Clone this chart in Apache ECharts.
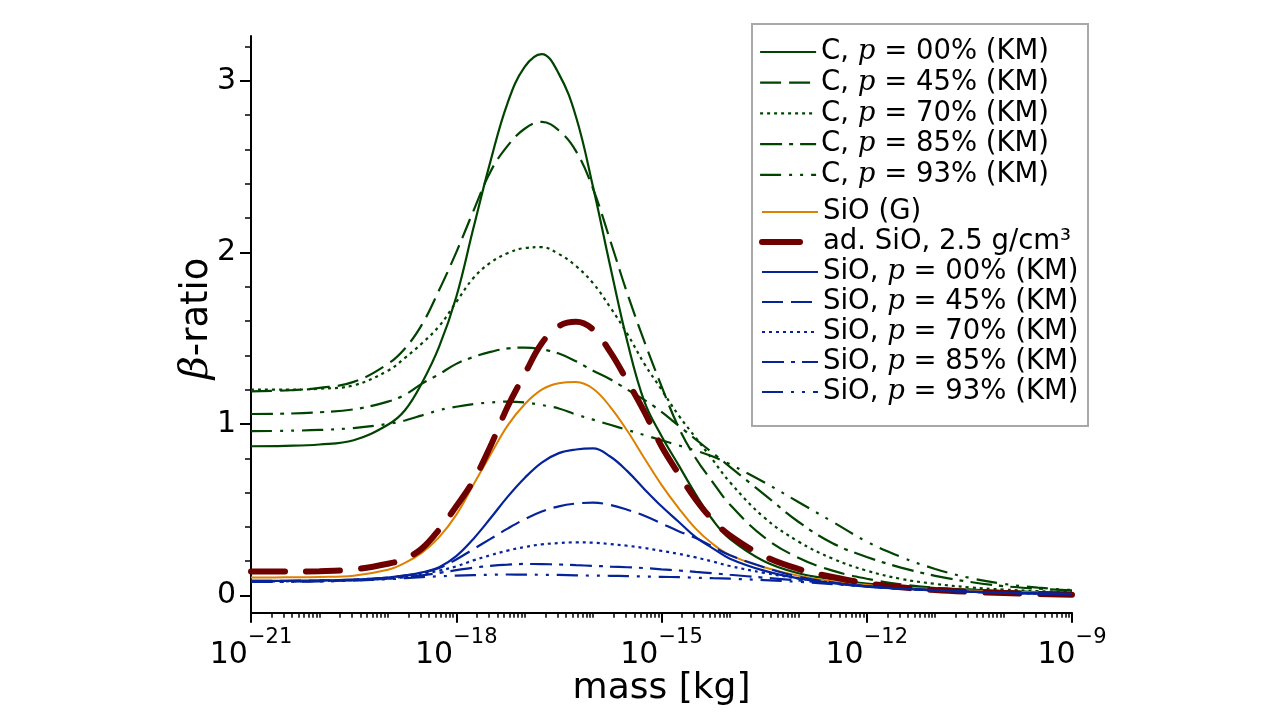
<!DOCTYPE html>
<html><head><meta charset="utf-8">
<script src="https://cdn.jsdelivr.net/npm/echarts@6/dist/echarts.min.js"></script>
<style>html,body{margin:0;padding:0;background:#fff}#c{width:1280px;height:719px}</style>
</head><body><div id="c"></div>
<script>
// log10 of mass [kg]
const massExp = [-21, -20.5, -20, -19.5, -19, -18.75, -18.5, -18.25, -18, -17.75, -17.5, -17.25, -17, -16.75, -16.5, -16.25, -16, -15.75, -15.5, -15.25, -15, -14.75, -14.5, -14.25, -14, -13.5, -13, -12.5, -12, -11.5, -11, -10.5, -10, -9.5, -9];

const xTickExp = [-21, -18, -15, -12, -9];
const yTickValues = [0, 1, 2, 3];
const yMinorValues = [0.2, 0.4, 0.6, 0.8, 1.2, 1.4, 1.6, 1.8, 2.2, 2.4, 2.6, 2.8, 3.2];
const minorMultipliers = [2, 3, 4, 5, 6, 7, 8, 9];

const names = [
  'C, p = 00% (KM)', 'C, p = 45% (KM)', 'C, p = 70% (KM)', 'C, p = 85% (KM)', 'C, p = 93% (KM)',
  'SiO (G)', 'ad. SiO, 2.5 g/cm³',
  'SiO, p = 00% (KM)', 'SiO, p = 45% (KM)', 'SiO, p = 70% (KM)', 'SiO, p = 85% (KM)', 'SiO, p = 93% (KM)'
];

const C00 = [0.87,0.872,0.88,0.905,0.995,1.08,1.24,1.45,1.74,2.14,2.53,2.87,3.08,3.155,3.04,2.79,2.38,1.92,1.48,1.13,0.93,0.76,0.59,0.44,0.33,0.2,0.13,0.095,0.07,0.055,0.043,0.034,0.026,0.02,0.015];
const C45 = [1.19,1.195,1.21,1.245,1.35,1.44,1.58,1.78,2.0,2.24,2.47,2.62,2.72,2.76,2.71,2.59,2.37,2.07,1.76,1.48,1.22,0.98,0.8,0.66,0.53,0.34,0.22,0.145,0.098,0.065,0.045,0.034,0.025,0.019,0.015];
const C70 = [1.2,1.2,1.205,1.225,1.31,1.385,1.47,1.57,1.71,1.85,1.94,1.995,2.025,2.03,1.99,1.92,1.82,1.68,1.525,1.35,1.2,1.05,0.92,0.79,0.66,0.455,0.315,0.215,0.145,0.097,0.068,0.048,0.035,0.026,0.02];
const C85 = [1.058,1.06,1.068,1.085,1.13,1.17,1.235,1.29,1.35,1.39,1.42,1.44,1.445,1.435,1.41,1.365,1.31,1.26,1.2,1.14,1.07,0.99,0.91,0.83,0.75,0.59,0.43,0.305,0.225,0.163,0.115,0.08,0.055,0.04,0.03];
const C93 = [0.958,0.96,0.965,0.976,1.0,1.02,1.05,1.08,1.1,1.115,1.125,1.13,1.125,1.11,1.09,1.055,1.025,0.995,0.965,0.935,0.905,0.875,0.845,0.81,0.765,0.66,0.545,0.43,0.314,0.225,0.155,0.103,0.068,0.046,0.032];
const SiOG = [0.105,0.106,0.108,0.116,0.15,0.19,0.25,0.34,0.47,0.645,0.82,0.99,1.115,1.2,1.237,1.244,1.205,1.1,0.96,0.8,0.645,0.51,0.39,0.3,0.235,0.165,0.115,0.083,0.062,0.048,0.037,0.029,0.022,0.017,0.013];
const adSiO = [0.14,0.14,0.142,0.152,0.185,0.215,0.275,0.385,0.52,0.67,0.87,1.1,1.29,1.47,1.57,1.595,1.55,1.42,1.25,1.07,0.87,0.71,0.56,0.44,0.35,0.23,0.155,0.108,0.072,0.048,0.032,0.022,0.015,0.009,0.005];
const S00 = [0.085,0.086,0.088,0.093,0.105,0.117,0.135,0.165,0.23,0.33,0.45,0.575,0.685,0.775,0.83,0.851,0.857,0.81,0.725,0.62,0.52,0.43,0.34,0.275,0.215,0.145,0.1,0.072,0.052,0.04,0.03,0.023,0.017,0.012,0.009];
const S45 = [0.085,0.086,0.088,0.093,0.105,0.116,0.132,0.16,0.21,0.27,0.33,0.39,0.445,0.49,0.52,0.536,0.541,0.528,0.5,0.465,0.42,0.375,0.335,0.285,0.235,0.165,0.11,0.076,0.054,0.041,0.031,0.023,0.017,0.012,0.009];
const S70 = [0.082,0.083,0.085,0.09,0.1,0.11,0.125,0.145,0.17,0.205,0.235,0.262,0.283,0.298,0.306,0.31,0.308,0.3,0.29,0.277,0.26,0.243,0.222,0.198,0.172,0.132,0.1,0.075,0.054,0.04,0.03,0.022,0.016,0.012,0.009];
const S85 = [0.08,0.081,0.083,0.088,0.098,0.107,0.118,0.132,0.148,0.162,0.173,0.18,0.184,0.183,0.181,0.177,0.173,0.169,0.165,0.16,0.153,0.146,0.138,0.13,0.121,0.104,0.088,0.07,0.054,0.04,0.03,0.022,0.016,0.012,0.009];
const S93 = [0.079,0.08,0.082,0.087,0.095,0.101,0.107,0.112,0.116,0.119,0.121,0.1225,0.122,0.121,0.12,0.118,0.116,0.115,0.113,0.111,0.109,0.107,0.104,0.101,0.098,0.09,0.08,0.067,0.053,0.04,0.03,0.022,0.016,0.012,0.009];

const values = [C00, C45, C70, C85, C93, SiOG, adSiO, S00, S45, S70, S85, S93];

const GREEN = '#004400', ORANGE = '#dd8000', RED = '#6e0000', BLUE = '#06249a';
const DASH = [21, 8], DOT = [3, 4], DASHDOT = [22, 7, 4, 7], DASHDOTDOT = [21, 8, 3, 8, 3, 8];
const styles = [
  [GREEN, 2.2, 'solid'], [GREEN, 2.2, DASH], [GREEN, 2.2, DOT], [GREEN, 2.2, DASHDOT], [GREEN, 2.2, DASHDOTDOT],
  [ORANGE, 2, 'solid'], [RED, 6, [34, 21]],
  [BLUE, 2.2, 'solid'], [BLUE, 2.2, DASH], [BLUE, 2.2, DOT], [BLUE, 2.2, DASHDOT], [BLUE, 2.2, DASHDOTDOT]
];

const xMinor = [];
for (let n = -21; n < -9; n++) {
  if ((n + 21) % 3 !== 0) xMinor.push(n);
  minorMultipliers.forEach(k => xMinor.push(n + Math.log10(k)));
}

const FONT = 'DejaVu Sans';
const series = names.map((nm, i) => ({
  name: nm,
  type: 'line',
  xAxisIndex: 0, yAxisIndex: 0,
  symbol: 'none',
  smooth: 0.4,
  data: massExp.map((x, j) => [x, values[i][j]]),
  lineStyle: { color: styles[i][0], width: styles[i][1], type: styles[i][2], cap: i === 6 ? 'round' : 'butt' },
  itemStyle: { color: styles[i][0] },
  z: 2 + i
}));

const LFS = 27.5;
const legendText = {
  fontFamily: FONT, fontSize: LFS, color: '#000', lineHeight: 30,
  rich: { i: { fontFamily: 'DejaVu Serif', fontStyle: 'italic', fontSize: LFS, lineHeight: 30, color: '#000' } }
};
const legendBase = {
  orient: 'vertical', left: 759, padding: 0, itemWidth: 56, itemHeight: 2, itemTextGap: 8,
  selectedMode: false,
  itemStyle: { opacity: 0, borderWidth: 0 },
  lineStyle: { width: 'inherit', type: 'inherit' },
  textStyle: legendText,
  formatter: n => n.replace(' p ', ' {i|p} ')
};
const legend2Data = names.slice(5).map((n, i) => i === 1 ? { name: n, lineStyle: { type: [38, 40] } } : n);

const chart = echarts.init(document.getElementById('c'));
chart.setOption({
  animation: false,
  backgroundColor: '#fff',
  grid: { left: 251, right: 208, top: 36.1, bottom: 106.3, containLabel: false },
  xAxis: [{
    type: 'value', min: -21, max: -9, interval: 3, position: 'bottom',
    axisLine: { onZero: false, lineStyle: { color: '#000', width: 2 } },
    axisTick: { length: 10, lineStyle: { color: '#000', width: 2 } },
    splitLine: { show: false },
    axisLabel: {
      margin: 14,
      formatter: v => xTickExp.includes(v) ? '{b|10}{s|' + (v < 0 ? '−' : '') + Math.abs(v) + '}' : '',
      rich: {
        b: { fontFamily: FONT, fontSize: 30, lineHeight: 44, verticalAlign: 'bottom', color: '#000' },
        s: { fontFamily: FONT, fontSize: 21, lineHeight: 17, verticalAlign: 'top', color: '#000' }
      }
    },
    name: 'mass [kg]', nameLocation: 'middle', nameGap: 58, nameMoveOverlap: false,
    nameTextStyle: { fontFamily: FONT, fontSize: 36, color: '#000' }
  }, {
    type: 'value', min: -21, max: -9, position: 'bottom', offset: 0,
    axisLine: { show: false, onZero: false },
    axisTick: { show: true, length: 5, customValues: xMinor, lineStyle: { color: '#000', width: 1.5 } },
    axisLabel: { show: false },
    splitLine: { show: false }
  }],
  yAxis: [{
    type: 'value', min: -0.1, max: 3.26, position: 'left',
    axisLine: { show: true, onZero: false, lineStyle: { color: '#000', width: 2 } },
    axisTick: { show: true, length: 11, customValues: yTickValues, lineStyle: { color: '#000', width: 2 } },
    axisLabel: { customValues: yTickValues, margin: 15, fontFamily: FONT, fontSize: 30, color: '#000' },
    splitLine: { show: false },
    name: '{i|β}-ratio', nameLocation: 'middle', nameGap: 34, nameRotate: 90, nameMoveOverlap: false,
    nameTextStyle: {
      fontFamily: FONT, fontSize: 37, color: '#000', padding: [0, 0, 0, 12],
      rich: { i: { fontFamily: 'DejaVu Serif', fontStyle: 'italic', fontSize: 40, color: '#000' } }
    }
  }, {
    type: 'value', min: -0.1, max: 3.26, position: 'left', offset: 0,
    axisLine: { show: false, onZero: false },
    axisTick: { show: true, length: 6, customValues: yMinorValues, lineStyle: { color: '#000', width: 1.5 } },
    axisLabel: { show: false },
    splitLine: { show: false }
  }],
  legend: [
    Object.assign({}, legendBase, { top: 37, itemGap: 0.7, data: names.slice(0, 5) }),
    Object.assign({}, legendBase, { top: 197, itemGap: 0, data: legend2Data })
  ],
  graphic: [{
    type: 'rect', silent: true, z: 100,
    shape: { x: 752, y: 24, width: 336, height: 402 },
    style: { fill: 'none', stroke: '#a8a8a8', lineWidth: 2 }
  }],
  series: series
});
</script></body></html>
